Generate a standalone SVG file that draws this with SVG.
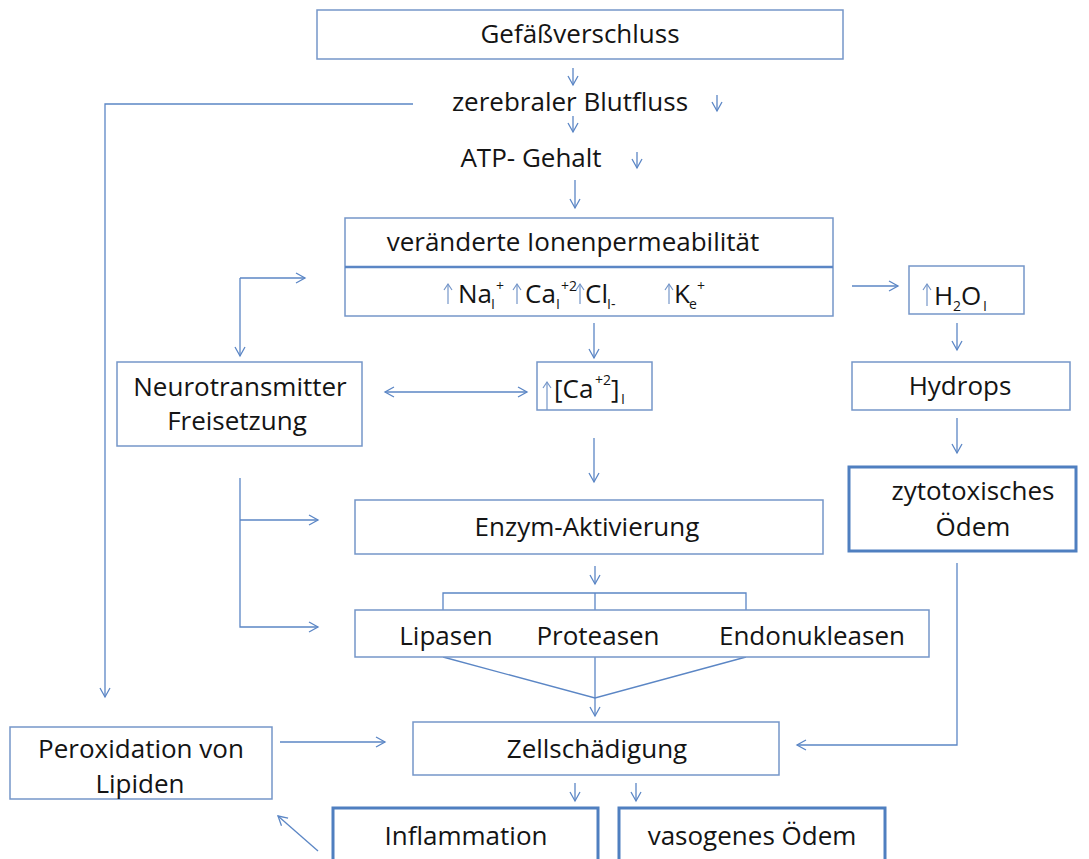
<svg xmlns="http://www.w3.org/2000/svg" width="1089" height="859" viewBox="0 0 1089 859">
<style>
  .bx{fill:#fff;stroke:#7596c9;stroke-width:1.5}
  .bxt{fill:#fff;stroke:#4f7fc0;stroke-width:3}
  .t{font-family:"Open Sans","Liberation Sans",sans-serif;font-size:26px;fill:#141414}
  .c{text-anchor:middle}
  .s{font-family:"Open Sans","Liberation Sans",sans-serif;font-size:14px;fill:#141414}
  .ln{fill:none;stroke:#5b86c5;stroke-width:1.3}
  .ar{fill:none;stroke:#5b86c5;stroke-width:1.3;marker-end:url(#ah)}
  .ua{fill:none;stroke:#7596c9;stroke-width:1.2;marker-end:url(#ah2)}
</style>
<defs>
  <marker id="ah" markerUnits="userSpaceOnUse" markerWidth="14" markerHeight="14" refX="10" refY="6" orient="auto-start-reverse">
    <path d="M1,1 L10,6 L1,11" fill="none" stroke="#5b86c5" stroke-width="1.3"/>
  </marker>
  <marker id="ah2" markerUnits="userSpaceOnUse" markerWidth="12" markerHeight="12" refX="7" refY="5" orient="auto">
    <path d="M1,1 L7,5 L1,9" fill="none" stroke="#7596c9" stroke-width="1.2"/>
  </marker>
</defs>
<rect width="1089" height="859" fill="#fff"/>

<g id="connectors">
  <path class="ar" d="M573,68 L573,85"/>
  <path class="ar" d="M717,95 L717,111"/>
  <path class="ar" d="M573,116 L573,132"/>
  <path class="ar" d="M637,152 L637,168"/>
  <path class="ar" d="M575,180 L575,208"/>
  <path class="ar" d="M413,104 L105,104 L105,697"/>
  <path class="ar" d="M240,278 L240,356"/>
  <path class="ar" d="M240,278 L305,278"/>
  <path class="ar" d="M852,286 L898,286"/>
  <path class="ar" d="M957,323 L957,350"/>
  <path class="ar" d="M957,418 L957,453"/>
  <path class="ar" d="M594,323 L594,358"/>
  <path class="ar" style="marker-start:url(#ah)" d="M385,392 L527,392"/>
  <path class="ar" d="M594,438 L594,482"/>
  <path class="ar" d="M240,478 L240,627 L318,627"/>
  <path class="ar" d="M240,520 L318,520"/>
  <path class="ar" d="M595,566 L595,584"/>
  <path class="ln" d="M443,610 L443,593 L746,593 L746,610 M595,593 L595,610"/>
  <path class="ln" d="M443,657 L595,698 L746,657"/>
  <path class="ar" d="M595,657 L595,716"/>
  <path class="ar" d="M957,563 L957,745 L797,745"/>
  <path class="ar" d="M280,742 L385,742"/>
  <path class="ar" d="M575,783 L575,801"/>
  <path class="ar" d="M636,783 L636,801"/>
  <path class="ar" d="M318,851 L278,816"/>
</g>

<g id="gefaessverschluss">
  <rect class="bx" x="317" y="10" width="526" height="49"/>
  <text class="t c" x="580" y="43">Gefäßverschluss</text>
</g>
<g id="blutfluss">
  <text class="t c" x="570" y="111">zerebraler Blutfluss</text>
</g>
<g id="atp">
  <text class="t c" x="531" y="167">ATP- Gehalt</text>
</g>
<g id="ionenpermeabilitaet">
  <rect class="bx" x="345" y="218" width="488" height="98"/>
  <line x1="345" y1="267" x2="833" y2="267" stroke="#5b86c5" stroke-width="2.5"/>
  <text class="t c" x="573" y="251">veränderte Ionenpermeabilität</text>
  <path class="ua" d="M448,304 L448,284"/>
  <text class="t" x="458" y="303">Na</text>
  <text class="s" x="491" y="309">I</text>
  <text class="s" x="496" y="291">+</text>
  <path class="ua" d="M517,304 L517,284"/>
  <text class="t" x="525" y="303">Ca</text>
  <text class="s" x="556" y="309">I</text>
  <text class="s" x="561" y="291">+2</text>
  <path class="ua" d="M580,304 L580,284"/>
  <text class="t" x="585" y="303">Cl</text>
  <text class="s" x="607" y="309">I-</text>
  <path class="ua" d="M669,304 L669,284"/>
  <text class="t" x="674" y="303">K</text>
  <text class="s" x="689" y="309">e</text>
  <text class="s" x="697" y="291">+</text>
</g>
<g id="h2o">
  <rect class="bx" x="909" y="266" width="115" height="48"/>
  <path class="ua" d="M927,306 L927,284"/>
  <text class="t" x="934" y="305">H</text>
  <text class="s" x="953" y="311">2</text>
  <text class="t" x="961" y="305">O</text>
  <text class="s" x="983" y="311">I</text>
</g>
<g id="hydrops">
  <rect class="bx" x="852" y="362" width="218" height="48"/>
  <text class="t c" x="960" y="395">Hydrops</text>
</g>
<g id="zytotoxisches-oedem">
  <rect class="bxt" x="849" y="467" width="227" height="84"/>
  <text class="t c" x="973" y="500">zytotoxisches</text>
  <text class="t c" x="973" y="536">Ödem</text>
</g>
<g id="neurotransmitter">
  <rect class="bx" x="117" y="362" width="245" height="84"/>
  <text class="t c" x="240" y="396">Neurotransmitter</text>
  <text class="t c" x="237" y="430">Freisetzung</text>
</g>
<g id="calcium">
  <rect class="bx" x="537" y="362" width="115" height="48"/>
  <path class="ua" d="M547,410 L547,382"/>
  <text class="t" x="554" y="398">[Ca</text>
  <text class="s" x="595" y="385">+2</text>
  <text class="t" x="611" y="398">]</text>
  <text class="s" x="621" y="404">I</text>
</g>
<g id="enzym-aktivierung">
  <rect class="bx" x="355" y="500" width="468" height="54"/>
  <text class="t c" x="587" y="536">Enzym-Aktivierung</text>
</g>
<g id="enzyme">
  <rect class="bx" x="355" y="610" width="574" height="47"/>
  <text class="t c" x="446" y="645">Lipasen</text>
  <text class="t c" x="598" y="645">Proteasen</text>
  <text class="t c" x="812" y="645">Endonukleasen</text>
</g>
<g id="zellschaedigung">
  <rect class="bx" x="413" y="722" width="366" height="53"/>
  <text class="t c" x="597" y="758">Zellschädigung</text>
</g>
<g id="peroxidation">
  <rect class="bx" x="10" y="727" width="262" height="72"/>
  <text class="t c" x="141" y="758">Peroxidation von</text>
  <text class="t c" x="140" y="793">Lipiden</text>
</g>
<g id="inflammation">
  <rect class="bxt" x="333" y="808" width="265" height="70"/>
  <text class="t c" x="466" y="845">Inflammation</text>
</g>
<g id="vasogenes-oedem">
  <rect class="bxt" x="619" y="808" width="266" height="70"/>
  <text class="t c" x="752" y="845">vasogenes Ödem</text>
</g>
</svg>
